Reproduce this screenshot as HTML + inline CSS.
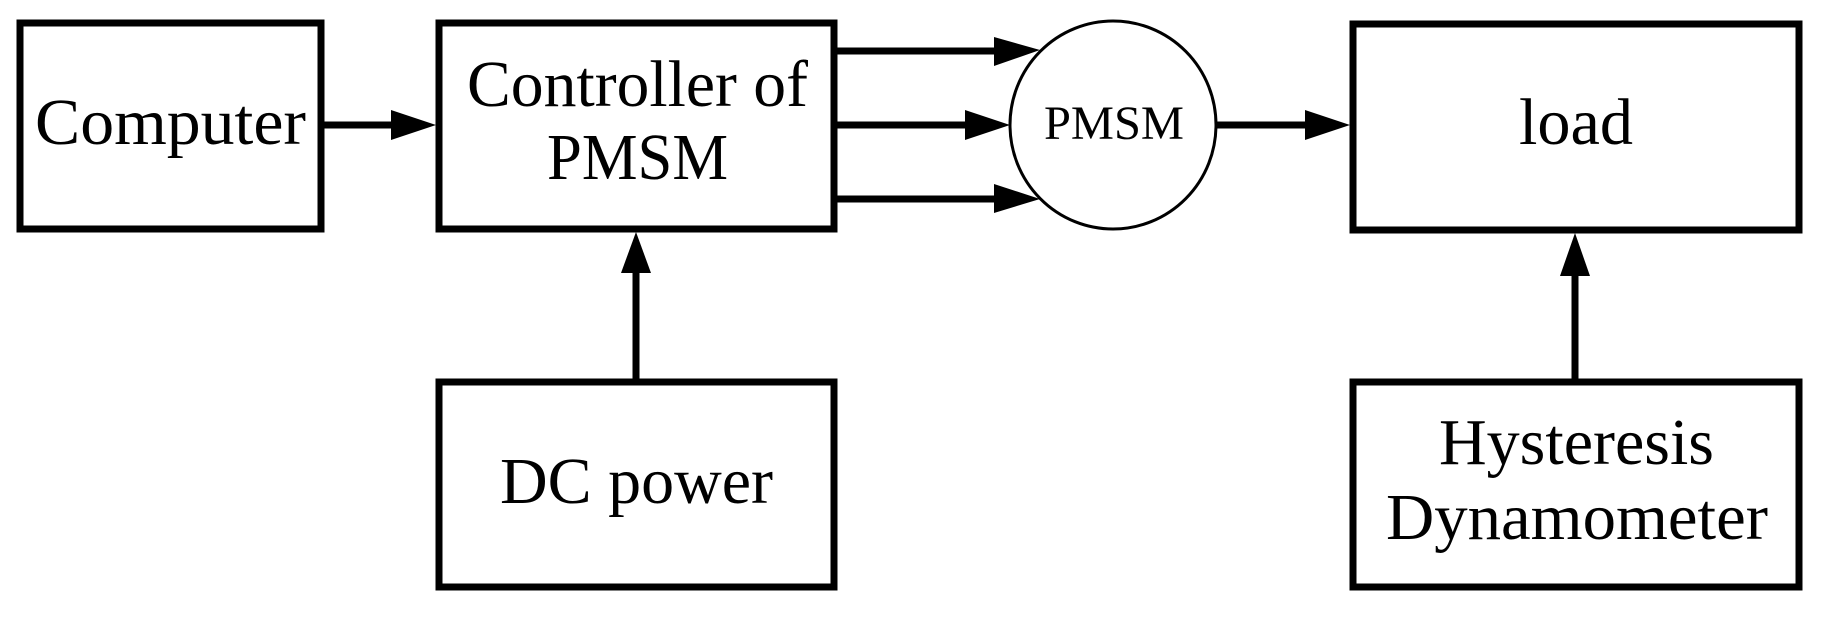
<!DOCTYPE html>
<html><head><meta charset="utf-8"><style>html,body{margin:0;padding:0;background:#fff;}svg{display:block}</style></head>
<body>
<svg width="1830" height="618" viewBox="0 0 1830 618" xmlns="http://www.w3.org/2000/svg">
<g fill="none" stroke="#000" stroke-width="7">
<rect x="20" y="23" width="301" height="206"/>
<rect x="439" y="23" width="395" height="206"/>
<rect x="439" y="382" width="395" height="205"/>
<rect x="1353" y="24" width="446" height="206"/>
<rect x="1353" y="382" width="446" height="205"/>
</g>
<ellipse cx="1113" cy="125" rx="103" ry="104" fill="none" stroke="#000" stroke-width="3"/>
<g stroke="#000" stroke-width="7">
<line x1="321" y1="125" x2="395" y2="125"/>
<line x1="834" y1="51" x2="1000" y2="51"/>
<line x1="834" y1="125" x2="970" y2="125"/>
<line x1="834" y1="199" x2="1000" y2="199"/>
<line x1="1216" y1="125" x2="1310" y2="125"/>
<line x1="636" y1="382" x2="636" y2="268"/>
<line x1="1575" y1="382" x2="1575" y2="272"/>
</g>
<g fill="#000">
<polygon points="391,110 436,125 391,140"/>
<polygon points="994,37 1040,50 994,66"/>
<polygon points="965,110 1010,125 965,140"/>
<polygon points="994,184 1040,199 994,213"/>
<polygon points="1305,110 1350,125 1305,140"/>
<polygon points="621,273 636,232 651,273"/>
<polygon points="1560,276 1575,233 1590,276"/>
</g>
<g font-family="'Liberation Serif', serif" font-size="66" fill="#000">
<text x="35" y="144" textLength="271" lengthAdjust="spacingAndGlyphs">Computer</text>
<text x="467" y="106" textLength="341" lengthAdjust="spacingAndGlyphs">Controller of</text>
<text x="547" y="179" textLength="181" lengthAdjust="spacingAndGlyphs">PMSM</text>
<text x="500" y="503" textLength="273" lengthAdjust="spacingAndGlyphs">DC power</text>
<text x="1519" y="144" textLength="114" lengthAdjust="spacingAndGlyphs">load</text>
<text x="1439" y="464" textLength="275" lengthAdjust="spacingAndGlyphs">Hysteresis</text>
<text x="1386" y="539" textLength="382" lengthAdjust="spacingAndGlyphs">Dynamometer</text>
<text x="1044" y="139" font-size="48" textLength="140" lengthAdjust="spacingAndGlyphs">PMSM</text>
</g>
</svg>
</body></html>
